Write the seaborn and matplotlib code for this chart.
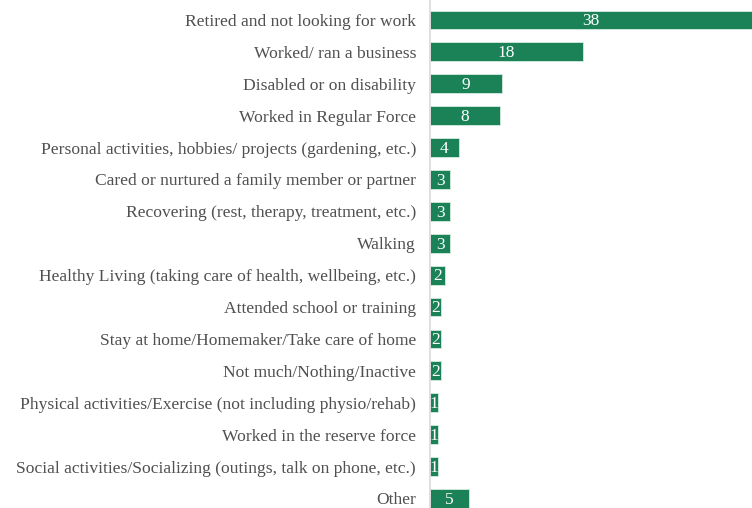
import pandas as pd
import seaborn as sns
import matplotlib.pyplot as plt

# Data
categories = [
    "Retired and not looking for work",
    "Worked/ ran a business",
    "Disabled or on disability",
    "Worked in Regular Force",
    "Personal activities, hobbies/ projects (gardening, etc.)",
    "Cared or nurtured a family member or partner",
    "Recovering (rest, therapy, treatment, etc.)",
    "Walking",
    "Healthy Living (taking care of health, wellbeing, etc.)",
    "Attended school or training",
    "Stay at home/Homemaker/Take care of home",
    "Not much/Nothing/Inactive",
    "Physical activities/Exercise (not including physio/rehab)",
    "Worked in the reserve force",
    "Social activities/Socializing (outings, talk on phone, etc.)",
    "Other",
]
# bar lengths as measured (labels shown are rounded)
values = [38, 18, 8.5, 8.3, 3.4, 2.4, 2.4, 2.4, 1.8, 1.3, 1.3, 1.3, 1.0, 1.0, 1.0, 4.6]
bar_labels = ["38", "18", "9", "8", "4", "3", "3", "3", "2", "2", "2", "2", "1", "1", "1", "5"]

df = pd.DataFrame({"activity": categories, "value": values})

sns.set_style("white")
plt.rcParams['font.family'] = ['Liberation Serif', 'DejaVu Serif']

fig = plt.figure(figsize=(7.52, 5.08), dpi=100)
ax = fig.add_axes([430 / 752, 0, 1 - 430 / 752, 1])

sns.barplot(data=df, x="value", y="activity", orient="h", color="#1a8256",
            saturation=1, width=0.59, edgecolor="#d6ebe0", linewidth=0.6, ax=ax)

# bar labels, centered in white
for p, v, lab in zip(ax.patches, values, bar_labels):
    ax.text(v / 2, p.get_y() + p.get_height() / 2 + 0.04, lab,
            ha="center", va="center", color="white", fontsize=12.5)

ax.set_xlim(0, 38)
ax.set_ylim(15.30, -0.627)
ax.set_xlabel("")
ax.set_ylabel("")
ax.set_xticks([])
ax.tick_params(axis="y", length=0, pad=10, labelsize=12.6, labelcolor="#505050")

for s in ["top", "right", "bottom"]:
    ax.spines[s].set_visible(False)
ax.spines["left"].set_color("#d9d9d9")
ax.spines["left"].set_linewidth(1.2)

fig.savefig("out.png", dpi=100)
